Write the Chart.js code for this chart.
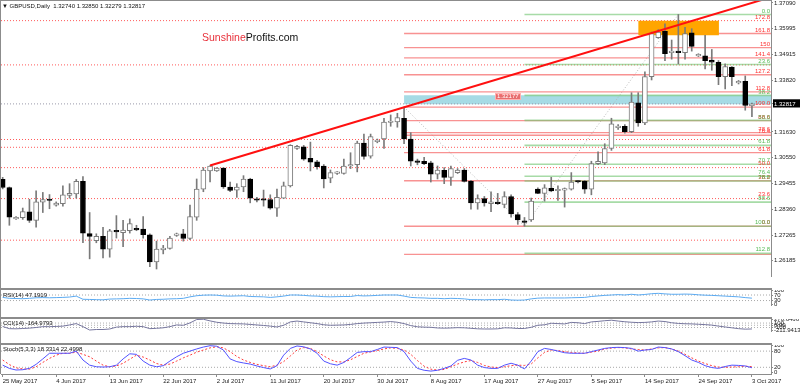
<!DOCTYPE html>
<html>
<head>
<meta charset="utf-8">
<script src="https://cdn.jsdelivr.net/npm/chart.js@4.4.1/dist/chart.umd.min.js"></script>
<style>
html,body{margin:0;padding:0;background:#fff;}
body{width:800px;height:386px;position:relative;overflow:hidden;font-family:"Liberation Sans",Arial,sans-serif;}
canvas{position:absolute;left:0;}
.sep{position:absolute;left:0;width:772px;height:2px;background:#8c8c8c;}
.txt{position:absolute;font-size:6px;color:#111;white-space:nowrap;line-height:7px;}
</style>
</head>
<body>
<canvas id="cMain" width="800" height="288" style="top:0px"></canvas>
<canvas id="cRsi" width="800" height="27" style="top:290px"></canvas>
<canvas id="cCci" width="800" height="24" style="top:319px"></canvas>
<canvas id="cSto" width="800" height="41" style="top:345px"></canvas>
<div class="sep" style="top:288px"></div>
<div class="sep" style="top:317px"></div>
<div class="sep" style="top:343px"></div>
<div style="position:absolute;left:0;top:0;width:1px;height:374px;background:#8c8c8c"></div>
<div style="position:absolute;left:0;top:0;width:772px;height:1px;background:#8c8c8c"></div>
<div class="txt" style="left:2px;top:3px">▼ GBPUSD,Daily&nbsp; 1.32740 1.32850 1.32279 1.32817</div>
<div style="position:absolute;left:202px;top:31px;font-size:10.5px;line-height:12px;white-space:nowrap"><span style="color:#e8303a">Sunshine</span><span style="color:#111">Profits.com</span></div>
<div class="txt" style="left:3px;top:292px">RSI(14) 47.1919</div>
<div class="txt" style="left:3px;top:320px">CCI(14) -164.9793</div>
<div class="txt" style="left:3px;top:346px">Stoch(5,3,3) 18.3314 22.4998</div>
<script>
// ---------- DATA ----------
const dateLabels = ['25 May 2017','4 Jun 2017','13 Jun 2017','22 Jun 2017','2 Jul 2017','11 Jul 2017','20 Jul 2017','30 Jul 2017','8 Aug 2017','17 Aug 2017','27 Aug 2017','5 Sep 2017','14 Sep 2017','24 Sep 2017','3 Oct 2017'];
const dateBars = [0,8,16,24,32,40,48,56,64,72,80,88,96,104,112];

const open = [
1.2963,1.2928,1.2795,1.2800,1.2825,1.2789,1.2866,1.2879,1.2853,1.2860,
1.2894,1.2901,1.2954,1.2733,1.2703,1.2721,1.2667,1.2744,1.2737,1.2745,
1.2755,1.2752,1.2728,1.2613,1.2664,1.2670,1.2725,1.2732,1.2712,1.2802,
1.2921,1.2998,1.2998,1.3010,1.2930,1.2917,1.2930,1.2964,1.2878,1.2877,
1.2877,1.2840,1.2883,1.2935,1.3093,1.3100,1.3051,1.3037,1.3019,1.2967,
1.2988,1.2988,1.3019,1.3025,1.3116,1.3061,1.3122,1.3133,1.3203,1.3205,
1.3221,1.3133,1.3037,1.3039,1.3032,1.2984,1.3001,1.2971,1.2991,1.3002,
1.2954,1.2863,1.2881,1.2860,1.2866,1.2856,1.2890,1.2813,1.2782,1.2791,
1.2921,1.2903,1.2924,1.2914,1.2917,1.2921,1.2955,1.2954,1.2921,1.3029,
1.3032,1.3093,1.3181,1.3187,1.3164,1.3286,1.3201,1.3397,1.3562,1.3589,
1.3498,1.3505,1.3498,1.3582,1.3485,1.3485,1.3467,1.3458,1.3397,1.3437,
1.3370,1.3377,1.32740];
const high = [
1.2971,1.2930,1.2805,1.2841,1.2878,1.2914,1.2907,1.2898,1.2867,1.2935,
1.2944,1.2962,1.2974,1.2822,1.2732,1.2759,1.2751,1.2809,1.2789,1.2795,
1.2768,1.2805,1.2732,1.2701,1.2683,1.2721,1.2735,1.2751,1.2853,1.2964,
1.3012,1.3021,1.3012,1.3012,1.2951,1.2944,1.2978,1.2967,1.2886,1.2917,
1.2897,1.2921,1.2951,1.3109,1.3106,1.3106,1.3120,1.3043,1.3025,1.3002,
1.2995,1.3048,1.3075,1.3124,1.3154,1.3154,1.3133,1.3221,1.3235,1.3242,
1.3268,1.3160,1.3048,1.3056,1.3039,1.3019,1.3012,1.3019,1.3008,1.3008,
1.2958,1.2897,1.2890,1.2910,1.2903,1.2910,1.2897,1.2822,1.2801,1.2883,
1.2926,1.2940,1.2971,1.2935,1.2926,1.2991,1.2956,1.2958,1.3039,1.3079,
1.3113,1.3221,1.3194,1.3194,1.3329,1.3329,1.3417,1.3586,1.3596,1.3620,
1.3552,1.3660,1.3606,1.3600,1.3494,1.3572,1.3512,1.3465,1.3451,1.3440,
1.3381,1.3400,1.32850];
const low = [
1.2922,1.2768,1.2793,1.2793,1.2780,1.2760,1.2822,1.2838,1.2849,1.2849,
1.2883,1.2883,1.2694,1.2626,1.2694,1.2630,1.2633,1.2714,1.2678,1.2735,
1.2745,1.2714,1.2593,1.2583,1.2647,1.2667,1.2721,1.2701,1.2707,1.2789,
1.2910,1.2951,1.2996,1.2924,1.2910,1.2886,1.2910,1.2863,1.2867,1.2849,
1.2836,1.2805,1.2881,1.2930,1.3089,1.3043,1.2998,1.3005,1.2926,1.2948,
1.2983,1.2984,1.3008,1.2994,1.3048,1.3052,1.3117,1.3093,1.3187,1.3183,
1.3113,1.3019,1.3024,1.3025,1.2951,1.2964,1.2944,1.2937,1.2987,1.2951,
1.2836,1.2836,1.2849,1.2826,1.2856,1.2842,1.2802,1.2772,1.2764,1.2784,
1.2902,1.2870,1.2910,1.2873,1.2845,1.2917,1.2947,1.2903,1.2897,1.3025,
1.3025,1.3085,1.3174,1.3158,1.3160,1.3187,1.3194,1.3383,1.3559,1.3465,
1.3471,1.3451,1.3471,1.3505,1.3482,1.3430,1.3424,1.3363,1.3345,1.3359,
1.3366,1.3255,1.32279];
const close = [
1.2928,1.2802,1.2802,1.2826,1.2789,1.2867,1.2877,1.2873,1.2862,1.2897,
1.2903,1.2954,1.2735,1.2721,1.2721,1.2667,1.2745,1.2740,1.2748,1.2775,
1.2748,1.2728,1.2613,1.2667,1.2672,1.2714,1.2732,1.2712,1.2805,1.2921,
1.3002,1.3019,1.3010,1.2930,1.2916,1.2930,1.2964,1.2883,1.2874,1.2874,
1.2840,1.2886,1.2935,1.3106,1.3102,1.3048,1.3035,1.3016,1.2964,1.2991,
1.2991,1.3019,1.3025,1.3116,1.3059,1.3143,1.3126,1.3205,1.3207,1.3224,
1.3133,1.3039,1.3034,1.3029,1.2984,1.3002,1.2971,1.3008,1.3002,1.2954,
1.2863,1.2881,1.2863,1.2867,1.2860,1.2890,1.2816,1.2791,1.2780,1.2870,
1.2903,1.2926,1.2913,1.2917,1.2920,1.2951,1.2951,1.2921,1.3029,1.3039,
1.3093,1.3197,1.3187,1.3164,1.3289,1.3201,1.3397,1.3579,1.3586,1.3494,
1.3505,1.3498,1.3579,1.3525,1.3489,1.3465,1.3458,1.3397,1.3440,1.3397,
1.3377,1.3275,1.32817];

const mainTicks = [1.37090,1.35995,1.34915,1.33820,1.32817,1.31630,1.30550,1.29455,1.28360,1.27265,1.26185];
const lastPrice = 1.32817;

// Fibonacci (red: from Aug high to Aug low, green: from Aug low to Sep high)
const redFibNames  = ['172.8','161.8','150','141.4','127.2','112.8','100.0','88.6','78.6','76.4','61.8','50.0','38.2','23.6','0.0'];
const redFibLevels = [1.36349,1.35795,1.35200,1.34767,1.34051,1.33325,1.32680,1.32105,1.31601,1.31491,1.30755,1.30160,1.29565,1.28829,1.27640];
const redSolidLevels = [1.35795,1.35200,1.34767,1.34051,1.33325,1.32680,1.32105,1.31601,1.31491,1.30755,1.29565,1.27640,1.26451];
const greenFibNames  = ['0.0','23.6','38.2','50.0','61.8','70.7','76.4','78.6','88.6','100.0','112.8'];
const greenFibLevels = [1.36600,1.34485,1.33177,1.32120,1.31063,1.30265,1.29755,1.29557,1.28661,1.27640,1.26493];
const dottedLevels = [1.36340,1.34467,1.31310,1.30980,1.30120,1.28810,1.27050];
const redFibStart = 60, greenFibStart = 78;
const redFibDiag = [[60,1.32680],[78,1.27640]];
const greenFibDiag = [[78,1.27640],[101,1.36600]];
const trendLine = [[31,1.30210],[114.85,1.37333]];
const cyanZone = {from:60, top:1.33180, bottom:1.32800};
const orangeZone = {from:95, to:107.07, top:1.36330, bottom:1.35720};

const rsi = [52.7,46,44.7,43.3,46,50,51.3,50,51.3,52.7,
55.3,62,39.3,38,36.7,35.3,40.7,42,43.3,46,
44.7,42,34,38,39.3,42,43.3,46,56.7,64.7,
68.7,70,68.7,63.3,62,63.3,64.7,59.3,58,56.7,
52.7,56.7,62,70,70,67.3,63.3,62,58,56.7,
58,59.3,59.3,66,63.3,64.7,67.3,70,70,70,
62,52.7,50,48.7,46,46,43.3,46,44.7,42,
36.7,36.7,35.3,36.7,36.7,39.3,34,32.7,34,42,
47.3,48.7,48.7,48.7,48.7,50,51.3,52.7,59.3,63.3,
67.3,70,72.7,70,75.3,70,74,79.3,82,78,
75.3,75.3,76.7,75.3,71.3,68.7,67.3,64.7,62,59.3,
56.7,51.3,47.1919];
const cci = [-53,-152,-159,-144,-129,-99,-61,-61,-53,-38,
15,76,-61,-211.9413,-190,-190,-167,-83,-61,-61,
-45,-61,-152,-136,-114,-61,15,0,106,258,
270.6466,197,136,99,76,68,61,38,15,-8,
-38,-76,0,152,190,152,114,76,23,0,
8,15,38,76,99,114,129,144,167,136,
76,-15,-68,-83,-91,-121,-129,-121,-106,-114,
-136,-159,-167,-167,-159,-114,-121,-144,-144,-91,
0,23,91,76,61,129,114,76,152,174,
205,227,190,159,136,121,129,152,190,167,
114,83,68,61,45,30,8,-38,-76,-114,
-152,-174,-164.9793];
const stochMain = [28,16,10,11,16,31,51,72,72,72,
72,80,47,28,22,21,22,28,51,70,
68,43,28,22,26,43,59,72,80,88,
95,100,98,84,51,41,36,32,25,19,
14,26,65,90,99,96,88,72,43,33,
28,38,56,75,78,78,86,95,94,93,
78,43,16,9,6,9,16,25,46,53,
47,28,19,16,16,28,35,28,14,43,
78,90,86,80,74,72,72,72,78,84,
90,93,94,93,90,80,84,86,95,93,
88,78,63,47,38,26,19,16,23,28,
27,25,18.3314];
const stochSignal = [47,30,18,14,13,22,38,53,65,72,
72,76,68,59,43,28,22,25,35,50,
65,58,47,34,28,32,43,55,65,76,
84,92,96,92,78,60,47,38,31,26,
22,28,41,62,84,93,90,78,62,48,
40,40,48,60,72,77,82,88,92,90,
84,68,45,24,13,10,12,22,32,40,
45,38,27,21,19,22,26,28,27,32,
55,75,84,82,78,75,73,72,76,80,
88,91,93,92,88,86,84,88,92,93,
88,80,68,55,43,34,26,21,20,21,
22,24,22.4998];
const cciMax = 270.6466, cciMin = -211.9413;

// ---------- HELPERS ----------
const FONT = {family:'"Liberation Sans", Arial, sans-serif', size:6};
const xMin = -0.25, xMax = 114.85;
function hLines(x0, x1, levels){
  const pts = [];
  levels.forEach(v => { pts.push({x:x0,y:v},{x:x1,y:v},{x:x1,y:null}); });
  return pts;
}
function xCfg(show){
  return {
    type:'linear', min:xMin, max:xMax, display:show, offset:false,
    afterBuildTicks: s => { s.ticks = dateBars.map(v => ({value:v})); },
    afterFit: s => { s.height = 12; s.paddingLeft = 0; s.paddingRight = 0; },
    grid:{drawOnChartArea:false, drawTicks:true, tickLength:3, color:'#8c8c8c'},
    border:{display:true, color:'#8c8c8c'},
    ticks:{font:FONT, color:'#222', padding:1, autoSkip:false, maxRotation:0, minRotation:0, align:'start',
      callback: v => dateLabels[dateBars.indexOf(v)]}
  };
}
function yCfg(min, max, ticks, fmt, extraTicks){
  return {
    position:'right', min, max,
    afterBuildTicks: s => { s.ticks = ticks.map(v => ({value:v})); },
    afterFit: s => { s.width = 29; s.paddingTop = 0; s.paddingBottom = 0; },
    grid:{drawOnChartArea:false, drawTicks:true, tickLength:2, color:'#8c8c8c'},
    border:{display:true, color:'#8c8c8c'},
    ticks:Object.assign({font:FONT, color:'#222', padding:1, autoSkip:false, callback:fmt}, extraTicks||{})
  };
}
const baseOpts = {
  responsive:false, animation:false, devicePixelRatio:1,
  plugins:{legend:{display:false}, tooltip:{enabled:false}},
  elements:{point:{radius:0}, line:{tension:0}}
};
function lineDs(data, color, width, dash, order, extra){
  return Object.assign({type:'line', data, borderColor:color, borderWidth:width, borderDash:dash||[],
    pointRadius:0, fill:false, spanGaps:false, order}, extra||{});
}

// ---------- MAIN CHART ----------
const idx = close.map((_, i) => i);
const isUp = idx.map(i => close[i] >= open[i]);

const fibLabelPlugin = {
  id:'fibLabels',
  afterDatasetsDraw(chart){
    const {ctx, chartArea, scales:{x, y}} = chart;
    ctx.save();
    ctx.font = '6px "Liberation Sans", Arial, sans-serif';
    ctx.textAlign = 'right'; ctx.textBaseline = 'bottom';
    const xr = chartArea.right - 1;
    redFibLevels.forEach((v, i) => { ctx.fillStyle = '#ff3030'; ctx.fillText(redFibNames[i], xr, y.getPixelForValue(v) - 0.5); });
    greenFibLevels.forEach((v, i) => { ctx.fillStyle = '#55bb55'; ctx.fillText(greenFibNames[i], xr, y.getPixelForValue(v) - 0.5); });
    // small price label box
    const cx = x.getPixelForValue(75.5), cy = y.getPixelForValue(1.3314);
    ctx.fillStyle = 'rgba(238,96,96,0.9)';
    ctx.fillRect(Math.round(cx - 13), Math.round(cy - 3.5), 26, 7);
    ctx.strokeStyle = '#ffb0b0'; ctx.lineWidth = 1;
    ctx.strokeRect(Math.round(cx - 13) + 0.5, Math.round(cy - 3.5) + 0.5, 25, 6);
    ctx.fillStyle = '#fff'; ctx.textAlign = 'center'; ctx.textBaseline = 'middle';
    ctx.fillText('1.32177', cx, cy + 0.5);
    ctx.restore();
  }
};

new Chart(document.getElementById('cMain'), {
  type:'bar',
  data:{datasets:[
    lineDs(trendLine.map(p => ({x:p[0], y:p[1]})), '#ff1010', 2, [], -1),
    {type:'bar', data:idx.map(i => ({x:i, y:[open[i], close[i]]})), grouped:false, barThickness:5,
      backgroundColor:isUp.map(u => u ? '#ffffff' : '#000000'), borderColor:isUp.map(u => u ? '#7a7a7a' : '#000000'),
      borderWidth:1, borderSkipped:false, minBarLength:1.5, order:0},
    {type:'bar', data:idx.map(i => ({x:i, y:[low[i], high[i]]})), grouped:false, barThickness:1,
      backgroundColor:'#7a7a7a', borderWidth:0, order:1},
    lineDs([{x:orangeZone.from, y:orangeZone.top},{x:orangeZone.to, y:orangeZone.top}], 'rgba(0,0,0,0)', 0, [], 2,
      {fill:{value:orangeZone.bottom}, backgroundColor:'#ffa500'}),
    lineDs(hLines(greenFibStart, xMax, greenFibLevels), 'rgba(120,200,120,0.65)', 1.6, [], 3),
    lineDs(hLines(redFibStart, xMax, redSolidLevels), 'rgba(245,110,110,0.75)', 1.3, [], 4),
    lineDs(redFibDiag.map(p => ({x:p[0], y:p[1]})), '#b8b8b8', 1, [1,2], 5),
    lineDs(greenFibDiag.map(p => ({x:p[0], y:p[1]})), '#b8b8b8', 1, [1,2], 5),
    lineDs(hLines(xMin, xMax, dottedLevels), 'rgba(255,60,60,0.85)', 1, [1,2], 6),
    lineDs(hLines(xMin, xMax, [lastPrice]), '#9a9aaa', 1, [1,2], 6),
    lineDs([{x:cyanZone.from, y:cyanZone.top},{x:xMax, y:cyanZone.top}], 'rgba(0,0,0,0)', 0, [], 7,
      {fill:{value:cyanZone.bottom}, backgroundColor:'#a6dbe5'})
  ]},
  options:Object.assign({}, baseOpts, {
    layout:{padding:{left:1, top:1, right:0, bottom:0}},
    scales:{
      x:xCfg(false),
      y:yCfg(1.25534, 1.37171, mainTicks, v => v.toFixed(5), {
        showLabelBackdrop: c => !!c.tick && Math.abs(c.tick.value - lastPrice) < 1e-7,
        backdropColor:'#000', backdropPadding:{top:1, bottom:0, left:1, right:6},
        color: c => (c.tick && Math.abs(c.tick.value - lastPrice) < 1e-7) ? '#fff' : '#222'
      })
    }
  }),
  plugins:[fibLabelPlugin]
});

// ---------- RSI ----------
new Chart(document.getElementById('cRsi'), {
  type:'line',
  data:{datasets:[
    lineDs(idx.map(i => ({x:i, y:rsi[i]})), '#5aaaf2', 1, [], 0),
    lineDs(hLines(xMin, xMax, [30, 70]), '#a8a8a8', 1, [1,2], 1)
  ]},
  options:Object.assign({}, baseOpts, {
    layout:{padding:{left:1, top:0, right:0, bottom:0}},
    scales:{x:xCfg(false), y:yCfg(-2, 106, [100,70,30,0], v => String(v))}
  })
});

// ---------- CCI ----------
new Chart(document.getElementById('cCci'), {
  type:'line',
  data:{datasets:[
    lineDs(idx.map(i => ({x:i, y:cci[i]})), '#76769e', 1, [], 0),
    lineDs(hLines(xMin, xMax, [100, 0, -100]), '#b0b0b0', 1, [1,2], 1)
  ]},
  options:Object.assign({}, baseOpts, {
    layout:{padding:{left:1, top:0, right:0, bottom:0}},
    scales:{x:xCfg(false), y:yCfg(-256.8, 281.9, [cciMax,100,0,-100,cciMin],
      v => (v === cciMax || v === cciMin) ? v.toFixed(4) : (v === 0 ? '0.00' : String(v)))}
  })
});

// ---------- STOCHASTIC ----------
new Chart(document.getElementById('cSto'), {
  type:'line',
  data:{datasets:[
    lineDs(idx.map(i => ({x:i, y:stochMain[i]})), '#5252ff', 1, [], 0),
    lineDs(idx.map(i => ({x:i, y:stochSignal[i]})), '#ff3b3b', 1, [2,2], 1),
    lineDs(hLines(xMin, xMax, [20, 80]), '#a8a8a8', 1, [1,2], 2)
  ]},
  options:Object.assign({}, baseOpts, {
    layout:{padding:{left:1, top:0, right:0, bottom:0}},
    scales:{x:xCfg(true), y:yCfg(-4.8, 102.6, [100,80,20,0], v => String(v))}
  })
});
</script>
</body>
</html>
